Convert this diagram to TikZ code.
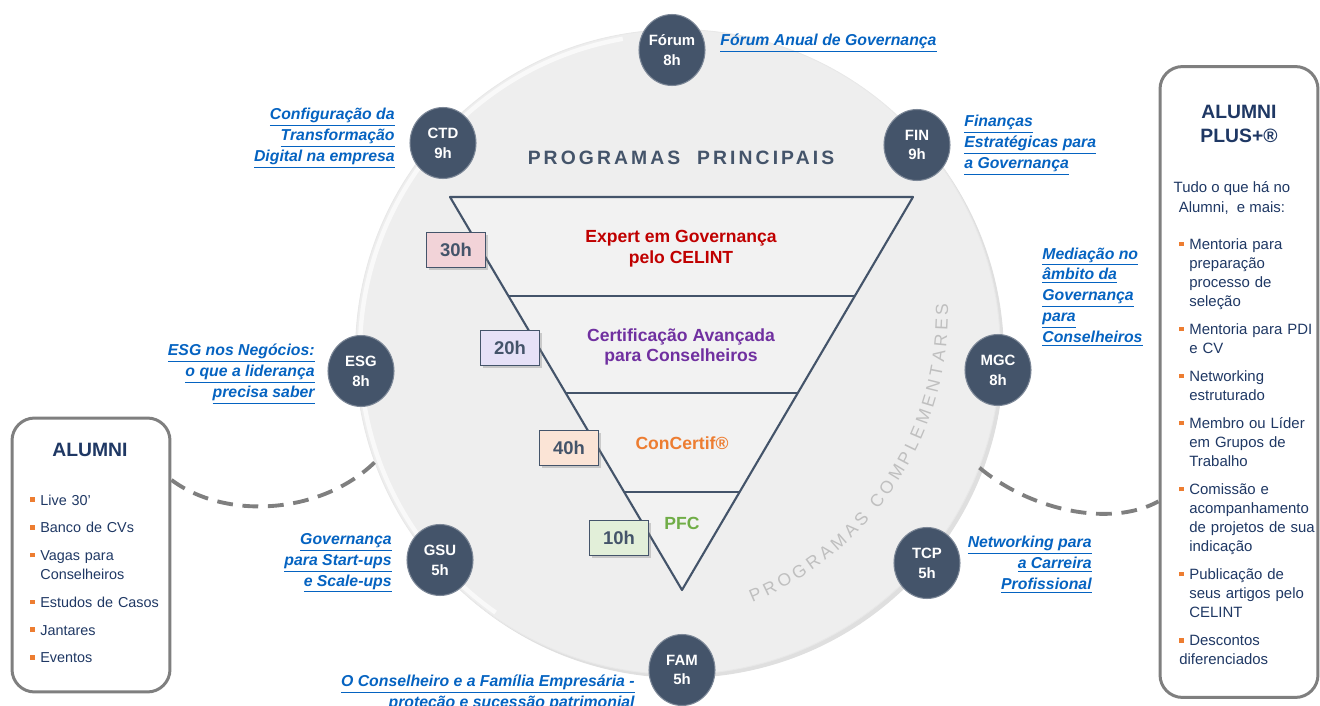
\documentclass[tikz,border=0pt]{standalone}
\usepackage{fontspec}
\setmainfont{Liberation Sans}
\usetikzlibrary{shapes.geometric,shadows,decorations.text}

\definecolor{slate}{HTML}{44546A}
\definecolor{navy}{HTML}{1F3864}
\definecolor{linkblue}{HTML}{0563C1}
\definecolor{bulletor}{HTML}{ED7D31}
\definecolor{expred}{HTML}{C00000}
\definecolor{certpur}{HTML}{7030A0}
\definecolor{concor}{HTML}{ED7D31}
\definecolor{pfcgreen}{HTML}{70AD47}
\definecolor{frameg}{HTML}{7F7F7F}
\definecolor{boxpink}{HTML}{F2D3D8}
\definecolor{boxlav}{HTML}{E6E1F7}
\definecolor{boxpeach}{HTML}{FBE4D6}
\definecolor{boxgreen}{HTML}{E2EFD9}

\newcommand{\blt}{\textcolor{bulletor}{\rule[0.22em]{2.6pt}{2.6pt}}}
\newcommand{\litem}[1]{\par\noindent\hangindent=5.7pt\hangafter=1\makebox[5.7pt][l]{\blt}#1}

\begin{document}
\begin{tikzpicture}[x=0.02cm,y=-0.02cm]
  \tikzset{ ball/.style={ellipse,fill=slate,draw=slate!70!white,line width=0.6pt,
      minimum width=1.32cm,minimum height=1.42cm,inner sep=0pt,text=white,
      font=\fontsize{8.5}{11.3}\selectfont\bfseries,align=center},
    link/.style={text=linkblue,inner sep=0pt,
      font=\fontsize{9}{11.9}\selectfont\bfseries\itshape},
    hbox/.style={draw=slate,line width=0.8pt,minimum width=1.18cm,minimum height=0.7cm,
      inner sep=0pt,text=slate,font=\fontsize{10.5}{12}\selectfont\bfseries,
      drop shadow={shadow xshift=1.5pt,shadow yshift=-1.5pt,opacity=0.35}},
    tier/.style={align=center,inner sep=0pt,font=\fontsize{10}{11.9}\selectfont\bfseries},
    frame/.style={draw=frameg,line width=1.7pt,rounded corners=0.45cm,fill=white},
    listtxt/.style={anchor=north west,inner sep=0pt,text=navy,align=left},
    conn/.style={draw=frameg,line width=2.2pt,dash pattern=on 9pt off 5.5pt},
  }
  \useasboundingbox (0,0) rectangle (1320,706);

  % the big disc and its curved title
  \node[circle,minimum size=12.9cm,fill=gray!13,draw=gray!18,line width=0.5pt,
    drop shadow={shadow xshift=2pt,shadow yshift=-2pt,opacity=0.25}] (bigc) at (678,352) {};
  \draw[white,line width=2.5pt,opacity=0.7] (bigc.center) ++(-100:318)
    arc[start angle=-100,end angle=-235,radius=318];
  \coordinate (tc) at (635,312);
  \path[decorate,decoration={text along path,text align=fit to path,
      text={|\fontsize{10}{12}\selectfont\color{gray!50}|PROGRAMAS COMPLEMENTARES}}]
    (tc) ++(68:313) arc[start angle=68,end angle=-1.5,radius=313];

  % the funnel
  \coordinate (t1) at (450,197);
  \coordinate (t2) at (913,197);
  \coordinate (t3) at (682,590);
  \draw[fill=gray!10,draw=slate,line width=1.2pt,line join=round] (t1) -- (t2) -- (t3) -- cycle;
  \draw[slate,line width=1.2pt] (508,296) -- (855,296);
  \draw[slate,line width=1.2pt] (565,393) -- (798,393);
  \draw[slate,line width=1.2pt] (624,492) -- (739,492);

  \node[tier,text=expred]   (expert) at (681,249) {Expert em Governança\\pelo CELINT};
  \node[tier,text=certpur]  (cert)   at (681,347) {Certificação Avançada\\para Conselheiros};
  \node[tier,text=concor]   (conc)   at (682,443) {ConCertif®};
  \node[tier,text=pfcgreen] (pfc)    at (682,523) {PFC};

  \node[hbox,fill=boxpink]  (h30) at (456,250) {30h};
  \node[hbox,fill=boxlav]   (h20) at (510,348) {20h};
  \node[hbox,fill=boxpeach] (h40) at (569,448) {40h};
  \node[hbox,fill=boxgreen] (h10) at (619,538) {10h};

  \node[text=slate,font=\fontsize{11}{13}\selectfont\bfseries\addfontfeature{LetterSpace=16}]
    (princ) at (681,158) {PROGRAMAS\ \ PRINCIPAIS};

  % the satellite programmes
  \node[ball] (bFor) at (672,50)  {Fórum\\8h};
  \node[ball] (bCTD) at (443,143) {CTD\\9h};
  \node[ball] (bFIN) at (917,145) {FIN\\9h};
  \node[ball] (bESG) at (361,371) {ESG\\8h};
  \node[ball] (bMGC) at (998,370) {MGC\\8h};
  \node[ball] (bGSU) at (440,560) {GSU\\5h};
  \node[ball] (bTCP) at (927,563) {TCP\\5h};
  \node[ball] (bFAM) at (682,670) {FAM\\5h};

  \node[link,anchor=west] (lFor) at (720,43) {\underline{Fórum Anual de Governança}};
  \node[link,anchor=east,align=right] (lCTD) at (395,138)
    {\underline{Configuração da}\\\underline{Transformação}\\\underline{Digital na empresa}};
  \node[link,anchor=west,align=left] (lFIN) at (964,145)
    {\underline{Finanças}\\\underline{Estratégicas para}\\\underline{a Governança}};
  \node[link,anchor=west,align=left] (lMGC) at (1042,297)
    {\underline{Mediação no}\\\underline{âmbito da}\\\underline{Governança}\\\underline{para}\\\underline{Conselheiros}};
  \node[link,anchor=east,align=right] (lESG) at (315,374)
    {\underline{ESG nos Negócios:}\\\underline{o que a liderança}\\\underline{precisa saber}};
  \node[link,anchor=east,align=right] (lGSU) at (392,563)
    {\underline{Governança}\\\underline{para Start-ups}\\\underline{e Scale-ups}};
  \node[link,anchor=east,align=right] (lTCP) at (1092,565)
    {\underline{Networking para}\\\underline{a Carreira}\\\underline{Profissional}};
  \node[link,anchor=east,align=right] (lFAM) at (635,695)
    {\underline{O Conselheiro e a Família Empresária -}\\\underline{proteção e sucessão patrimonial}};

  % the two alumni boxes
  \node[frame,minimum width=3.16cm,minimum height=5.48cm] (alumni) at (91,555) {};
  \node[frame,minimum width=3.16cm,minimum height=12.62cm] (plus) at (1239,382) {};

  \draw[conn] (alumni.43) .. controls (225,520) and (320,515) .. (bigc.200);
  \draw[conn] (bigc.-21.5) .. controls (1030,510) and (1110,528) .. (plus.236.7);

  \node[text=navy,font=\fontsize{11}{13}\selectfont\bfseries] (atitle) at (90,450) {ALUMNI};
  \node[listtxt,text width=2.7cm,font=\fontsize{8.2}{10.8}\selectfont\setlength{\parskip}{5pt}]
    (alist) at (30,477)
    {\litem{Live 30’}\litem{Banco de CVs}\litem{Vagas para\newline Conselheiros}%
     \litem{Estudos de Casos}\litem{Jantares}\litem{Eventos}};

  \node[text=navy,align=center,font=\fontsize{11}{13.6}\selectfont\bfseries] (ptitle) at (1239,124)
    {ALUMNI\\PLUS+®};
  \node[text=navy,align=center,font=\fontsize{8.5}{11.3}\selectfont] (pintro) at (1232,198)
    {Tudo o que há no\\Alumni,\ \ e mais:};
  \node[listtxt,text width=2.8cm,font=\fontsize{8.5}{10.8}\selectfont\setlength{\parskip}{5.2pt}]
    (plist) at (1179,221)
    {\litem{Mentoria para\newline preparação\newline processo de\newline seleção}%
     \litem{Mentoria para PDI\newline e CV}%
     \litem{Networking\newline estruturado}%
     \litem{Membro ou Líder\newline em Grupos de\newline Trabalho}%
     \litem{Comissão e\newline acompanhamento\newline de projetos de sua\newline indicação}%
     \litem{Publicação de\newline seus artigos pelo\newline CELINT}%
     \litem{Descontos\newline diferenciados}};
\end{tikzpicture}
\end{document}
